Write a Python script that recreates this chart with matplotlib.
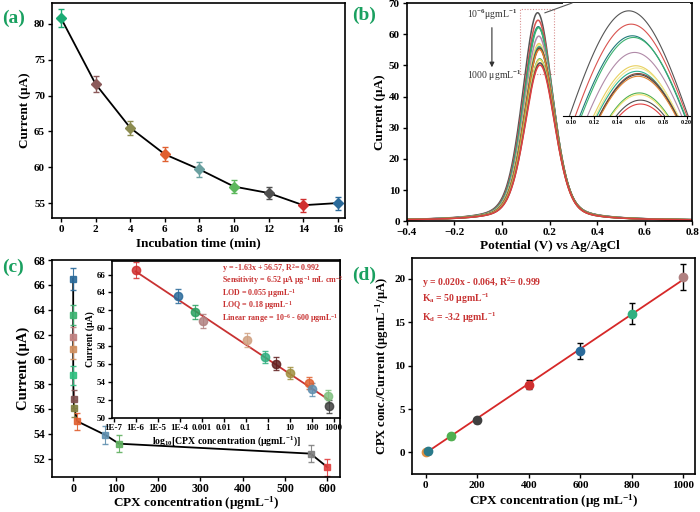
import numpy as np
import matplotlib
matplotlib.use("Agg")
import matplotlib.pyplot as plt

plt.rcParams['font.family'] = ['Liberation Serif', 'DejaVu Serif']
plt.rcParams['font.weight'] = 'bold'
plt.rcParams['axes.labelweight'] = 'bold'
plt.rcParams['mathtext.fontset'] = 'custom'
plt.rcParams['mathtext.rm'] = 'Liberation Serif:bold'
plt.rcParams['mathtext.it'] = 'Liberation Serif:italic:bold'
plt.rcParams['mathtext.bf'] = 'Liberation Serif:bold'
plt.rcParams['mathtext.default'] = 'rm'
plt.rcParams['axes.linewidth'] = 1.2

# ---- (a) incubation time ----
time_min = [0, 2, 4, 6, 8, 10, 12, 14, 16]
current_a = [80.8, 71.6, 65.5, 61.8, 59.7, 57.3, 56.4, 54.7, 55.0]
err_a = [1.3, 1.1, 1.0, 1.0, 1.0, 0.9, 0.9, 0.9, 0.9]
colors_a = ['#1aab74', '#8b5a5a', '#8c8c50', '#e06030', '#6aa0a0',
            '#5cb85c', '#505050', '#d03030', '#2a6a9a']

# ---- (b) DPV peaks (height, peak position) ----
peak_height = [66.7, 64.3, 62.2, 61.9, 59.2, 56.8, 56.4, 55.8, 55.4, 55.2,
               54.9, 51.9, 51.6, 50.6, 49.9]
peak_pos = [0.150, 0.152, 0.153, 0.154, 0.155, 0.156, 0.157, 0.157, 0.158,
            0.158, 0.158, 0.159, 0.159, 0.160, 0.160]
colors_b = ['#555555', '#d9534f', '#1f7a7a', '#3cb371', '#b08aa8', '#e8d060',
            '#f0e890', '#2ab090', '#8b4a3a', '#444444', '#e08030', '#50b050',
            '#f0e070', '#505050', '#e04040']

# ---- (c) CPX concentration ----
conc_c = [1e-6, 8e-5, 5e-4, 1.2e-3, 0.12, 0.8, 2.5, 10, 76, 108, 560, 600]
current_c = [66.5, 63.6, 61.8, 60.8, 58.7, 56.8, 56.05, 55.0, 53.9, 53.2, 52.4, 51.3]
err_c = [0.9, 0.8, 0.8, 0.8, 0.8, 0.7, 0.7, 0.7, 0.7, 0.7, 0.7, 0.7]
colors_c = ['#2a6a9a', '#3cb371', '#c08080', '#d09060', '#30c080', '#805050',
            '#808040', '#e06030', '#6090b0', '#60b060', '#808080', '#e04040']
colors_ci = ['#d03030', '#2a6a9a', '#2aa060', '#b08080', '#d0a080', '#30b080',
             '#602020', '#a09040', '#e06030', '#6090b0', '#80c080', '#404040']
fit_c = (-1.63, 56.57)
log_ticks = [1e-7, 1e-6, 1e-5, 1e-4, 1e-3, 1e-2, 0.1, 1, 10, 100, 1000]
log_labels = ['1E-7', '1E-6', '1E-5', '1E-4', '0.001', '0.01', '0.1', '1', '10', '100', '1000']

# ---- (d) Langmuir ----
conc_d = [0, 10, 100, 200, 400, 600, 800, 1000]
ratio_d = [0.0, 0.15, 1.85, 3.7, 7.8, 11.7, 16.0, 20.2]
err_d = [0.2, 0.3, 0.3, 0.3, 0.5, 0.9, 1.2, 1.5]
colors_d = ['#e09040', '#2a7a8a', '#50b050', '#404040', '#d03030',
            '#2a6a9a', '#30b080', '#b08080']
fit_d = (0.020, -0.064)

red_txt = '#c83232'
label_green = '#1aa060'

fig = plt.figure(figsize=(7.0, 5.12), dpi=100)

def style(ax, fs=8):
    ax.tick_params(direction='out', length=3, width=1, labelsize=fs, pad=2)
    for t in ax.get_xticklabels() + ax.get_yticklabels():
        t.set_fontweight('bold')

# (a)
ax1 = fig.add_axes([0.0743, 0.574, 0.419, 0.420])
ax1.plot(time_min, current_a, color='black', lw=1.3, zorder=1)
for x, y, e, c in zip(time_min, current_a, err_a, colors_a):
    ax1.errorbar(x, y, yerr=e, fmt='D', color=c, ms=5, capsize=2.5, elinewidth=1, zorder=2)
ax1.set_xlim(-0.52, 16.43)
ax1.set_ylim(52.9, 82.9)
ax1.set_xticks(range(0, 17, 2))
ax1.set_yticks(range(55, 81, 5))
ax1.set_xlabel('Incubation time (min)', fontsize=9.5, labelpad=2)
ax1.set_ylabel('Current (μA)', fontsize=9.5, labelpad=2)
style(ax1)

# (b)
ax2 = fig.add_axes([0.581, 0.568, 0.408, 0.426])
xv = np.linspace(-0.4, 0.8, 1201)

def dpv(x, h, c):
    g = np.exp(-0.5 * ((x - c) / 0.063) ** 2)
    lo = 1.0 / (1.0 + ((x - c) / 0.08) ** 2)
    return h * (0.7 * g + 0.3 * lo) + 0.2

for h, c, col in zip(peak_height, peak_pos, colors_b):
    ax2.plot(xv, dpv(xv, h, c), color=col, lw=1.1)
ax2.set_xlim(-0.4, 0.8)
ax2.set_ylim(0, 70)
ax2.set_xticks(np.arange(-0.4, 0.81, 0.2))
ax2.set_yticks(range(0, 71, 10))
ax2.set_xlabel('Potential (V) vs Ag/AgCl', fontsize=9.5, labelpad=2)
ax2.set_ylabel('Current (μA)', fontsize=9.5, labelpad=2)
style(ax2)
ax2.add_patch(plt.Rectangle((0.077, 47.3), 0.141, 20.7, fill=False,
                            ls=(0, (1, 1.5)), ec='#d89090', lw=0.8))
ax2.text(-0.145, 66.2, r'10$^{-6}$μgmL$^{-1}$', fontsize=7, fontweight='normal',
         color='#333333', va='center')
ax2.text(-0.145, 46.6, r'1000 μgmL$^{-1}$', fontsize=7, fontweight='normal',
         color='#333333', va='center')
ax2.annotate('', xy=(-0.042, 48.5), xytext=(-0.042, 63.0),
             arrowprops=dict(arrowstyle='-|>', color='#333333', lw=0.8, mutation_scale=7))

ax2i = fig.add_axes([0.804, 0.773, 0.182, 0.221])
for h, c, col in zip(peak_height, peak_pos, colors_b):
    ax2i.plot(xv, dpv(xv, h, c), color=col, lw=0.8)
ax2i.set_xlim(0.093, 0.203)
ax2i.set_ylim(47.9, 68.3)
ax2i.set_xticks([0.10, 0.12, 0.14, 0.16, 0.18, 0.20])
ax2i.set_xticklabels(['0.10', '0.12', '0.14', '0.16', '0.18', '0.20'])
ax2i.set_yticks([])
for s in ['left', 'right', 'top']:
    ax2i.spines[s].set_visible(False)
ax2i.spines['bottom'].set_linewidth(0.8)
ax2i.tick_params(direction='out', length=2, width=0.8, labelsize=4.5, pad=1)
fig.add_artist(plt.Line2D([0.7785, 0.817], [0.975, 0.994], color='#555555', lw=0.8))

# (c)
ax3 = fig.add_axes([0.0743, 0.068, 0.4117, 0.424])
ax3.plot(conc_c, current_c, color='black', lw=1.3, zorder=1)
for x, y, e, c in zip(conc_c, current_c, err_c, colors_c):
    ax3.errorbar(x, y, yerr=e, fmt='s', color=c, ms=4, capsize=2, elinewidth=0.8,
                 ecolor=c, alpha=0.9, zorder=2)
ax3.set_xlim(-50, 630)
ax3.set_ylim(50.5, 68)
ax3.set_xticks(range(0, 601, 100))
ax3.set_yticks(range(52, 69, 2))
ax3.set_xlabel('CPX concentration (μgmL$^{-1}$)', fontsize=9.5, labelpad=-0.5)
ax3.set_ylabel('Current (μA)', fontsize=10.5, labelpad=2)
style(ax3, 8.5)
ax3.tick_params(axis='x', pad=1.5)

ax3i = fig.add_axes([0.160, 0.1836, 0.326, 0.3064])
fx = np.array([1e-6, 600])
ax3i.plot(fx, fit_c[0] * np.log10(fx) + fit_c[1], color='#c83232', lw=1.3, zorder=1)
for x, y, e, c in zip(conc_c, current_c, err_c, colors_ci):
    ax3i.errorbar(x, y, yerr=e, fmt='o', color=c, ms=6, capsize=2, elinewidth=0.7,
                  ecolor=c, alpha=0.85, zorder=2)
ax3i.set_xscale('log')
ax3i.set_xlim(8.4e-8, 2000)
ax3i.set_ylim(50, 67.5)
ax3i.set_xticks(log_ticks)
ax3i.set_xticklabels(log_labels)
ax3i.minorticks_off()
ax3i.set_yticks(range(50, 67, 2))
ax3i.set_xlabel(r'log$_{10}$[CPX concentration (μgmL$^{-1}$)]', fontsize=7, labelpad=1)
ax3i.set_ylabel('Current (μA)', fontsize=7, labelpad=1)
style(ax3i, 6.5)
ax3i.tick_params(pad=1.5)
inset_txt = ['y = -1.63x + 56.57, R$^2$= 0.992',
             'Sensitivity = 6.52 μA μg$^{-1}$ mL cm$^{-2}$',
             'LOD = 0.055 μgmL$^{-1}$',
             'LOQ = 0.18 μgmL$^{-1}$',
             'Linear range = 10$^{-6}$ - 600 μgmL$^{-1}$']
for i, t in enumerate(inset_txt):
    ax3i.text(0.48, 0.955 - i * 0.08, t, transform=ax3i.transAxes, fontsize=5.8,
              color=red_txt, va='center')

# (d)
ax4 = fig.add_axes([0.589, 0.074, 0.404, 0.422])
fx = np.array([0, 1000])
ax4.plot(fx, fit_d[0] * fx + fit_d[1], color='#d62828', lw=1.3, zorder=1)
for x, y, e, c in zip(conc_d, ratio_d, err_d, colors_d):
    ax4.errorbar(x, y, yerr=e, fmt='o', color=c, ms=6, capsize=2.5, elinewidth=1,
                 ecolor='black', zorder=2)
ax4.set_xlim(-52, 1045)
ax4.set_ylim(-2.5, 22.4)
ax4.set_xticks(range(0, 1001, 200))
ax4.set_yticks(range(0, 21, 5))
ax4.set_xlabel('CPX concentration (μg mL$^{-1}$)', fontsize=9.5, labelpad=2)
ax4.set_ylabel('CPX conc./Current (μgmL$^{-1}$/μA)', fontsize=9, labelpad=2)
style(ax4)
d_txt = ['y = 0.020x - 0.064, R$^2$= 0.999',
         'K$_a$ = 50 μgmL$^{-1}$',
         'K$_d$ = -3.2 μgmL$^{-1}$']
for i, (t, yy) in enumerate(zip(d_txt, [0.884, 0.81, 0.722])):
    ax4.text(0.035, yy, t, transform=ax4.transAxes, fontsize=7,
             color=red_txt, va='center')

# panel labels
for x, y, s in [(0.003, 0.965, '(a)'), (0.503, 0.97, '(b)'),
                (0.003, 0.478, '(c)'), (0.503, 0.462, '(d)')]:
    fig.text(x, y, s, fontsize=14, fontweight='bold', color=label_green, va='center')

fig.savefig('out.png', dpi=100)
